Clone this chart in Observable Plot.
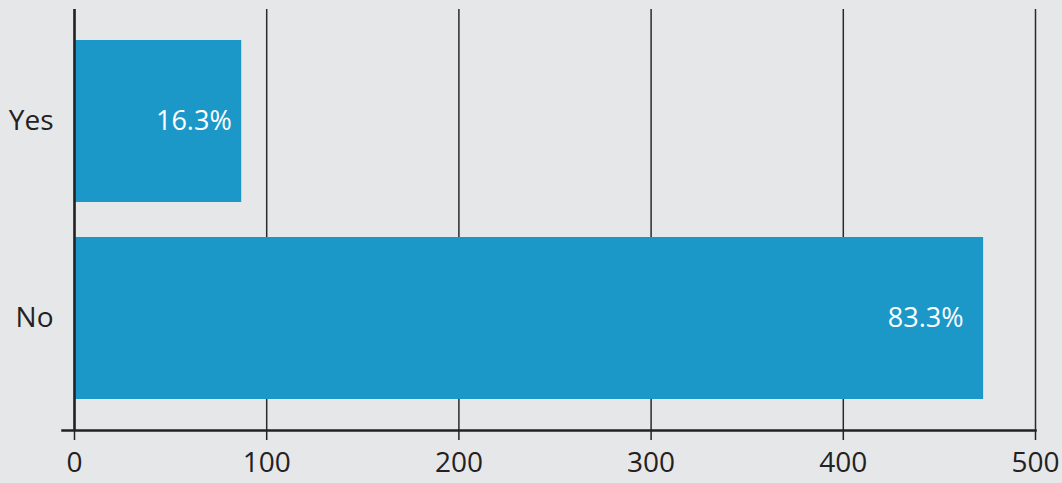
<!DOCTYPE html>
<html>
<head>
<meta charset="utf-8">
<script src="https://cdn.jsdelivr.net/npm/d3@7"></script>
<script src="https://cdn.jsdelivr.net/npm/@observablehq/plot@0.6"></script>
<style>
  html, body { margin: 0; padding: 0; background: #e6e7e9; }
  #chart { width: 1062px; height: 483px; }
</style>
</head>
<body>
<div id="chart"></div>
<script>
const categories = ["Yes", "No"];
const counts = [87, 473];
const percentLabels = ["16.3%", "83.3%"];
const xTicks = [0, 100, 200, 300, 400, 500];

const data = categories.map((c, i) => ({category: c, count: counts[i], label: percentLabels[i]}));

const chart = Plot.plot({
  width: 1062,
  height: 483,
  marginLeft: 74,
  marginRight: 27,
  marginTop: 9,
  marginBottom: 53,
  style: {background: "#e6e7e9", fontFamily: "'Open Sans', sans-serif", color: "#222"},
  x: {domain: [0, 500], ticks: xTicks, label: null},
  y: {domain: categories, paddingInner: 0.18, paddingOuter: 0.155, label: null},
  marks: [
    Plot.gridX(xTicks, {stroke: "#2a2a2a", strokeOpacity: 1, strokeWidth: 1.5}),
    Plot.barX(data, {x: "count", y: "category", fill: "#1b98c8"}),
    Plot.text(data.filter(d => d.category === "Yes"), {x: "count", y: "category", text: "label", textAnchor: "end", dx: -10, fill: "white", fontSize: 27}),
    Plot.text(data.filter(d => d.category === "No"), {x: "count", y: "category", text: "label", textAnchor: "end", dx: -20, fill: "white", fontSize: 27}),
    Plot.ruleX([0], {stroke: "#222", strokeWidth: 2.5}),
    Plot.frame({anchor: "bottom", stroke: "#222", strokeWidth: 2.5, insetLeft: -12}),
    Plot.axisX(xTicks, {tickSize: 10, tickPadding: 12, fontSize: 28, stroke: "#222", strokeWidth: 1.5, fill: "#222", label: null, tickFormat: d => String(d)}),
    Plot.axisY({tickSize: 0, tickPadding: 21, fontSize: 28, fill: "#222", label: null})
  ]
});
chart.setAttribute("font-size", 28);
document.getElementById("chart").appendChild(chart);
</script>
</body>
</html>
